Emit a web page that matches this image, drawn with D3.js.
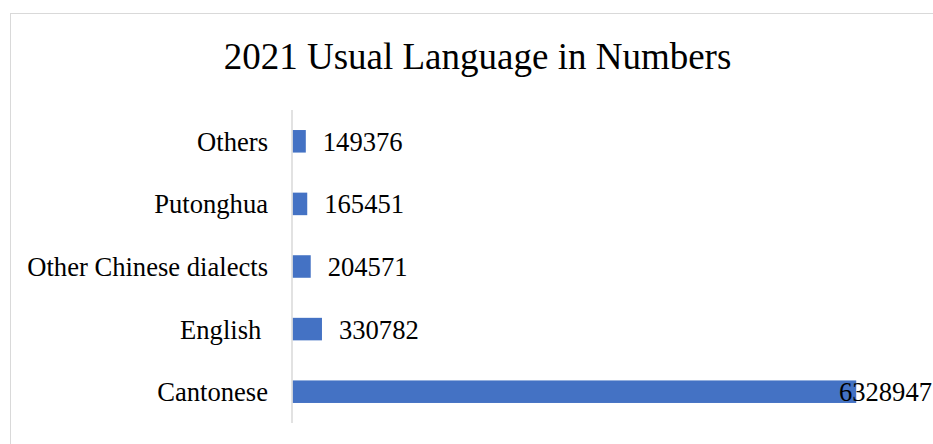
<!DOCTYPE html>
<html>
<head>
<meta charset="utf-8">
<script src="https://cdn.jsdelivr.net/npm/d3@7/dist/d3.min.js"></script>
<style>
  html, body { margin: 0; padding: 0; background: #fff; overflow: hidden; }
  svg { display: block; }
  text { font-family: "Times New Roman", "Liberation Serif", serif; fill: #000; }
</style>
</head>
<body>
<svg id="chart" width="933" height="444"></svg>
<script>
// Usual language of the population, 2021
const title = "2021 Usual Language in Numbers";
const categories = ["Others", "Putonghua", "Other Chinese dialects", "English", "Cantonese"];
const values = [149376, 165451, 204571, 330782, 6328947];
const categoryLabels = ["Others", "Putonghua", "Other Chinese dialects", "English ", "Cantonese"];

const W = 933, H = 444;
const svg = d3.select("#chart");

// Chart frame (extends past the right and bottom edges of the view)
const frame = { left: 10.5, top: 13.5, width: 934, height: 460 };
svg.append("rect")
  .attr("x", frame.left).attr("y", frame.top)
  .attr("width", frame.width).attr("height", frame.height)
  .attr("fill", "#fff").attr("stroke", "#d9d9d9").attr("stroke-width", 1);

svg.append("text")
  .attr("x", frame.left + frame.width / 2)
  .attr("y", 69)
  .attr("text-anchor", "middle")
  .style("font-size", "37px")
  .text(title);

const plot = { left: 292.5, right: 916, top: 110, bottom: 423 };

const x = d3.scaleLinear().domain([0, 7000000]).range([plot.left, plot.right]);
const y = d3.scaleBand().domain(categories)
  .range([plot.top, plot.bottom])
  .paddingInner(0.64).paddingOuter(0.32);

const data = categories.map((c, i) => ({ cat: c, label: categoryLabels[i], value: values[i] }));

// Bars
svg.append("g").selectAll("rect").data(data).join("rect")
  .attr("x", x(0))
  .attr("y", d => y(d.cat))
  .attr("width", d => x(d.value) - x(0))
  .attr("height", y.bandwidth())
  .attr("fill", "#4472c4");

// Vertical category axis line
svg.append("line")
  .attr("x1", plot.left - 0.5).attr("x2", plot.left - 0.5)
  .attr("y1", plot.top).attr("y2", plot.bottom)
  .attr("stroke", "#d9d9d9").attr("stroke-width", 1.5);

// Category labels
svg.append("g").selectAll("text").data(data).join("text")
  .attr("x", 268)
  .attr("y", d => y(d.cat) + y.bandwidth() / 2)
  .attr("dy", "0.36em")
  .attr("text-anchor", "end")
  .style("font-size", "26.6px")
  .style("white-space", "pre")
  .text(d => d.label);

// Value labels, pulled back inside the visible area when they would overflow it
const chartRight = 932;
svg.append("g").selectAll("text").data(data).join("text")
  .attr("y", d => y(d.cat) + y.bandwidth() / 2)
  .attr("dy", "0.36em")
  .style("font-size", "26.6px")
  .text(d => d.value)
  .attr("x", function(d) {
    const w = this.getComputedTextLength();
    return Math.min(x(d.value) + 17, chartRight - w);
  });
</script>
</body>
</html>
